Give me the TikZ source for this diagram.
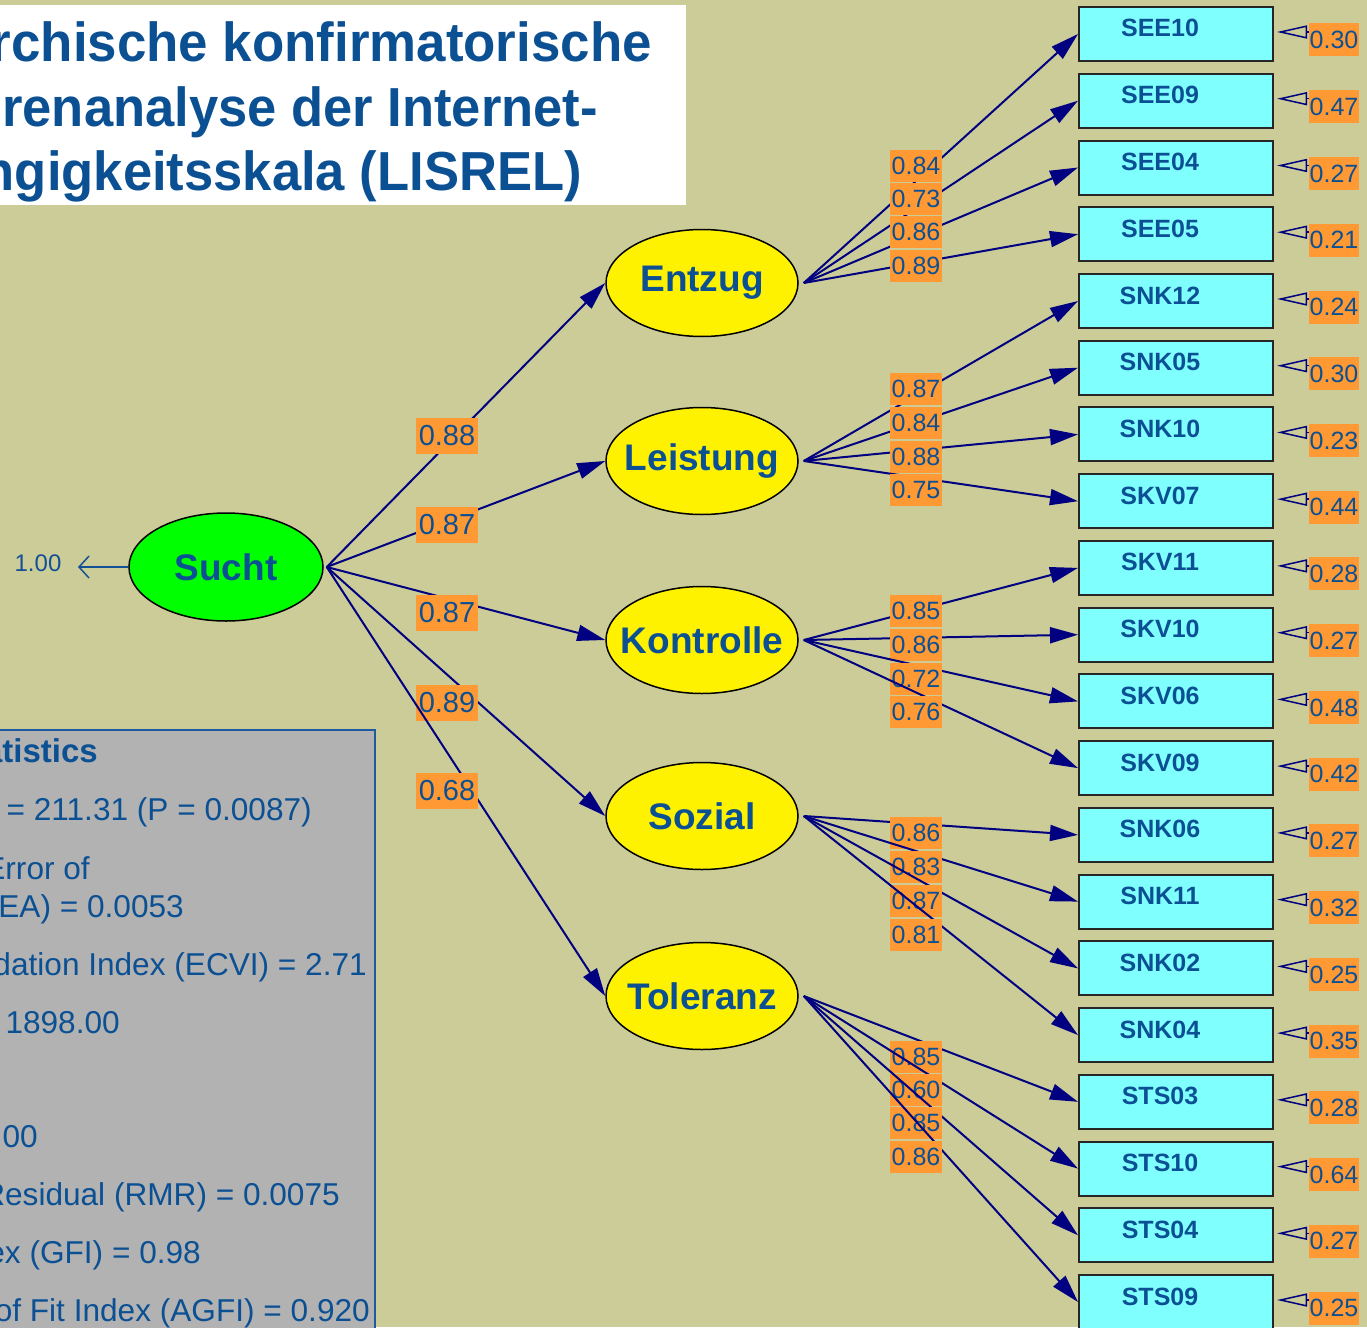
\documentclass[tikz,border=0pt]{standalone}
\usepackage{fontspec}
\usepackage{graphicx}
\setmainfont{Liberation Sans}
\usetikzlibrary{shapes.geometric,arrows.meta,calc}
\definecolor{bgk}{RGB}{204,204,153}
\definecolor{tblue}{RGB}{12,80,148}
\definecolor{navyc}{RGB}{0,0,128}
\definecolor{orng}{RGB}{255,153,51}
\definecolor{cyanbox}{RGB}{128,255,255}
\definecolor{statgray}{RGB}{178,178,178}
\definecolor{statborder}{RGB}{30,90,160}
\definecolor{vblue}{RGB}{20,80,150}
\tikzset{
  latent/.style={ellipse, draw=black, line width=1.5pt, fill=yellow, minimum width=192pt, minimum height=107pt, inner sep=0pt, font=\fontsize{37}{44}\selectfont\bfseries, text=tblue},
  obs/.style={rectangle, draw=black!85, line width=2pt, fill=cyanbox, minimum width=194pt, minimum height=54pt, inner sep=0pt, text height=18pt, text depth=12pt, font=\fontsize{25}{30}\selectfont\bfseries, text=tblue},
  bigload/.style={fill=orng, text=tblue, font=\fontsize{29}{34}\selectfont, minimum width=62pt, minimum height=36pt, inner sep=0pt},
  load/.style={fill=orng, text=tblue, font=\fontsize{25}{30}\selectfont, minimum width=52pt, minimum height=32pt, inner sep=0pt},
  errlab/.style={fill=orng, text=tblue, font=\fontsize{25}{30}\selectfont, minimum width=50pt, minimum height=33pt, inner sep=0pt},
  arr/.style={draw=navyc, line width=2pt, -{Triangle[length=28pt,width=16pt]}},
  errarr/.style={draw=navyc, line width=1.5pt, -{Triangle[open,length=30pt,width=13pt]}},
  varr/.style={draw=vblue, line width=1.5pt, -{Straight Barb[length=10pt,width=22pt]}},
  titletext/.style={inner sep=0pt, text=tblue, font=\fontsize{55}{64}\selectfont\bfseries, anchor=base east},
  stattext/.style={inner sep=0pt, text=tblue, font=\fontsize{31.6}{37}\selectfont, anchor=base east}
}
\begin{document}
\begin{tikzpicture}[x=1pt,y=-1pt]
\useasboundingbox (0,0) rectangle (1367,1327);
\fill[bgk] (0,0) rectangle (1367,1327);
\clip (0,0) rectangle (1367,1327);

% title
\fill[white] (-5,5) rectangle (686,205);
\node[titletext] (t1) at (652,62) {\scalebox{0.961}[1]{Hierarchische konfirmatorische}};
\node[titletext] (t2) at (598,126) {\scalebox{0.955}[1]{Faktorenanalyse der Internet-}};
\node[titletext] (t3) at (582,190) {\scalebox{0.956}[1]{Abhängigkeitsskala (LISREL)}};

% statistics box
\filldraw[fill=statgray, draw=statborder, line width=2pt] (-5,730) rectangle (375,1345);
\node[stattext, font=\fontsize{33}{38}\selectfont\bfseries] (s1) at (98,762) {Goodness of Fit Statistics};
\node[stattext] (s2) at (312,820) {Minimum Fit Function Chi-Square = 211.31 (P = 0.0087)};
\node[stattext] (s3) at (90,879) {Root Mean Square Error of};
\node[stattext] (s4) at (184,917) {Approximation (RMSEA) = 0.0053};
\node[stattext] (s5) at (367,975) {Expected Cross-Validation Index (ECVI) = 2.71};
\node[stattext] (s6) at (120,1033) {Critical N (CN) = 1898.00};
\node[stattext] (s7) at (38,1147) {.00};
\node[stattext] (s8) at (340,1205) {Root Mean Square Residual (RMR) = 0.0075};
\node[stattext] (s9) at (201,1263) {Goodness of Fit Index (GFI) = 0.98};
\node[stattext] (s10) at (370,1321) {Adjusted Goodness of Fit Index (AGFI) = 0.920};

% second-order factor
\node[latent, fill=green, minimum width=194pt, minimum height=108pt] (Sucht) at (226,567) {\makebox[0pt]{Sucht}};
\node[inner sep=0pt, text=vblue, font=\fontsize{24}{28}\selectfont] (v) at (38,563) {1.00};
\coordinate (vtip) at (78,567);
\draw[varr] (Sucht.west) -- (vtip);

% first-order factors
\node[latent] (Entzug) at (702,283) {\makebox[0pt]{Entzug}};
\node[latent] (Leistung) at (702,461) {\makebox[0pt]{Leistung}};
\node[latent] (Kontrolle) at (702,640) {\makebox[0pt]{Kontrolle}};
\node[latent] (Sozial) at (702,816) {\makebox[0pt]{Sozial}};
\node[latent] (Toleranz) at (702,996) {\makebox[0pt]{Toleranz}};

\coordinate (so) at ($(Sucht.east)+(3,0)$);
\foreach \lat/\val/\ly in {Entzug/0.88/436, Leistung/0.87/525, Kontrolle/0.87/613, Sozial/0.89/703, Toleranz/0.68/791}{
  \draw[arr] (so) -- (\lat.west);
  \node[bigload] (g-\lat) at (447,\ly) {\val};
}

% indicators
\foreach \nm/\yc/\lat/\ld/\ly/\er in {
  SEE10/34/Entzug/0.84/166/0.30,
  SEE09/100.7/Entzug/0.73/199/0.47,
  SEE04/167.5/Entzug/0.86/232/0.27,
  SEE05/234.2/Entzug/0.89/266/0.21,
  SNK12/301/Leistung/0.87/389/0.24,
  SNK05/367.7/Leistung/0.84/423/0.30,
  SNK10/434.4/Leistung/0.88/457/0.23,
  SKV07/501.2/Leistung/0.75/490/0.44,
  SKV11/567.9/Kontrolle/0.85/611/0.28,
  SKV10/634.7/Kontrolle/0.86/645/0.27,
  SKV06/701.4/Kontrolle/0.72/679/0.48,
  SKV09/768.1/Kontrolle/0.76/712/0.42,
  SNK06/834.9/Sozial/0.86/833/0.27,
  SNK11/901.6/Sozial/0.83/867/0.32,
  SNK02/968.4/Sozial/0.87/901/0.25,
  SNK04/1035.1/Sozial/0.81/935/0.35,
  STS03/1101.8/Toleranz/0.85/1057/0.28,
  STS10/1168.6/Toleranz/0.60/1090/0.64,
  STS04/1235.3/Toleranz/0.85/1123/0.27,
  STS09/1302/Toleranz/0.86/1157/0.25}{
  \node[obs] (\nm) at (1176,\yc) {\nm\hspace*{32pt}};
  \draw[arr] ($(\lat.east)+(5,0)$) -- (\nm.west);
  \node[load] (ld-\nm) at (916,\ly) {\ld};
  \draw[errarr] ($(\nm.east)+(35,-2)$) -- ($(\nm.east)+(3,-2)$);
  \node[errlab] (er-\nm) at (1334,\yc+6) {\er};
}
\end{tikzpicture}
\end{document}
